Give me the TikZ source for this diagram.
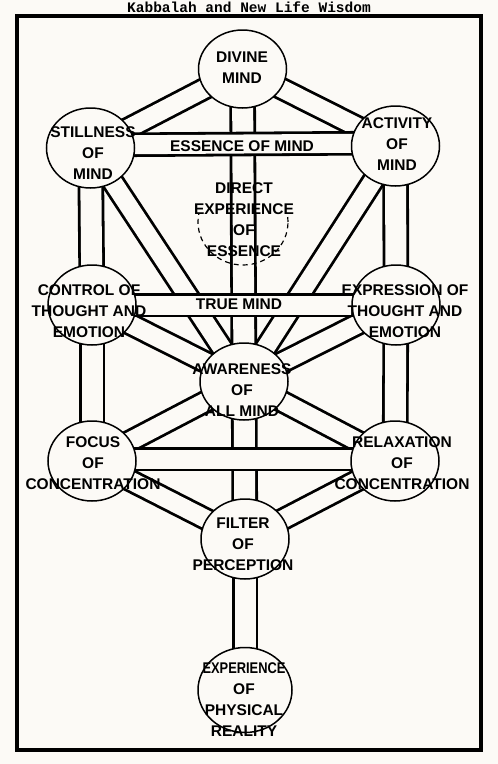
\documentclass[tikz,border=0pt]{standalone}
\usepackage{fontspec}
\setmainfont{Liberation Sans}
\newfontfamily\titlefont{Liberation Mono}
\usetikzlibrary{shapes.geometric}
\definecolor{bg}{RGB}{252,250,246}
\pgfdeclarelayer{paper}
\pgfdeclarelayer{paths}
\pgfdeclarelayer{bands}
\pgfsetlayers{paper,paths,bands,main}
\begin{document}
\begin{tikzpicture}[x=1pt,y=-1pt,
  sephira/.style={ellipse, draw=black, line width=1.5pt, fill=bg, minimum width=88pt, minimum height=80pt, inner sep=0pt},
  lbl/.style={font=\fontsize{15.5}{21}\selectfont\bfseries, align=center, inner sep=0pt},
  chan/.style={line width=2.8pt, double=bg, double distance=18pt},
  pillar/.style={line width=2.8pt, double=bg, double distance=21pt},
  band/.style={line width=2.8pt, double=bg, double distance=19pt},
]
\useasboundingbox (0,0) rectangle (498,764);
\begin{pgfonlayer}{paper}
\fill[bg] (0,0) rectangle (498,764);
\end{pgfonlayer}

% title and frame
\node[font=\titlefont\bfseries\fontsize{14.5}{16}\selectfont, inner sep=0pt] (title) at (249,7.5) {Kabbalah and New Life Wisdom};
\draw[line width=4pt] (17,15.5) rectangle (481,750);

% sephirot
\node[sephira, minimum height=78pt] (divine) at (242.5,69) {};
\node[sephira] (still) at (90.5,148) {};
\node[sephira] (activ) at (395.5,146) {};
\node[sephira] (ctrl) at (92,305) {};
\node[sephira] (expr) at (396,305) {};
\node[sephira, minimum height=77pt] (aware) at (244,381.5) {};
\node[sephira] (focus) at (92,461) {};
\node[sephira] (relax) at (395,461) {};
\node[sephira] (filter) at (245,539) {};
\node[sephira, minimum width=94pt, minimum height=85pt] (phys) at (245,690) {};
\begin{scope}
\clip (180,214) rectangle (310,280);
\node[ellipse, draw=black, line width=1.2pt, dash pattern=on 5pt off 4pt, minimum width=90pt, minimum height=86pt, inner sep=0pt] (direct) at (243,222) {};
\end{scope}

% channels
\begin{pgfonlayer}{paths}
\draw[chan] (divine.center) -- (still.center);
\draw[chan] (divine.center) -- (activ.center);
\draw[pillar] (divine.center) -- (aware.center);
\draw[pillar] (still.center) -- (ctrl.center);
\draw[pillar] (ctrl.center) -- (focus.center);
\draw[pillar] (activ.center) -- (expr.center);
\draw[pillar] (expr.center) -- (relax.center);
\draw[chan] (still.center) -- (aware.center);
\draw[chan] (activ.center) -- (aware.center);
\draw[chan] (ctrl.center) -- (aware.center);
\draw[chan] (expr.center) -- (aware.center);
\draw[chan] (focus.center) -- (aware.center);
\draw[chan] (relax.center) -- (aware.center);
\draw[pillar] (aware.center) -- (filter.center);
\draw[chan] (focus.center) -- (filter.center);
\draw[chan] (relax.center) -- (filter.center);
\draw[pillar] (filter.center) -- (phys.center);
\end{pgfonlayer}
\begin{pgfonlayer}{bands}
\draw[band] ([yshift=3pt]still.center) -- ([yshift=3pt]activ.center);
\draw[band] (ctrl.center) -- (expr.center);
\draw[band] ([yshift=2pt]focus.center) -- ([yshift=2pt]relax.center);
\end{pgfonlayer}

% labels
\node[lbl] (tdivine) at (242,68) {DIVINE\\MIND};
\node[lbl] (tstill) at (93,153) {STILLNESS\\OF\\MIND};
\node[lbl] (tactiv) at (397,144) {ACTIVITY\\OF\\MIND};
\node[lbl] (tessence) at (242,146) {ESSENCE OF MIND};
\node[lbl] (tdirect) at (244,220) {DIRECT\\EXPERIENCE\\OF\\ESSENCE};
\node[lbl] (tctrl) at (89,311) {CONTROL OF\\THOUGHT AND\\EMOTION};
\node[lbl] (texpr) at (405,311) {EXPRESSION OF\\THOUGHT AND\\EMOTION};
\node[lbl] (ttrue) at (239,304) {TRUE MIND};
\node[lbl] (taware) at (242,390) {AWARENESS\\OF\\ALL MIND};
\node[lbl] (tfocus) at (93,463) {FOCUS\\OF\\CONCENTRATION};
\node[lbl] (trelax) at (402,463) {RELAXATION\\OF\\CONCENTRATION};
\node[lbl] (tfilter) at (243,544) {FILTER\\OF\\PERCEPTION};
\node[lbl] (tphys) at (244,699.5) {\scalebox{0.83}[1]{EXPERIENCE}\\OF\\PHYSICAL\\REALITY};
\end{tikzpicture}
\end{document}
